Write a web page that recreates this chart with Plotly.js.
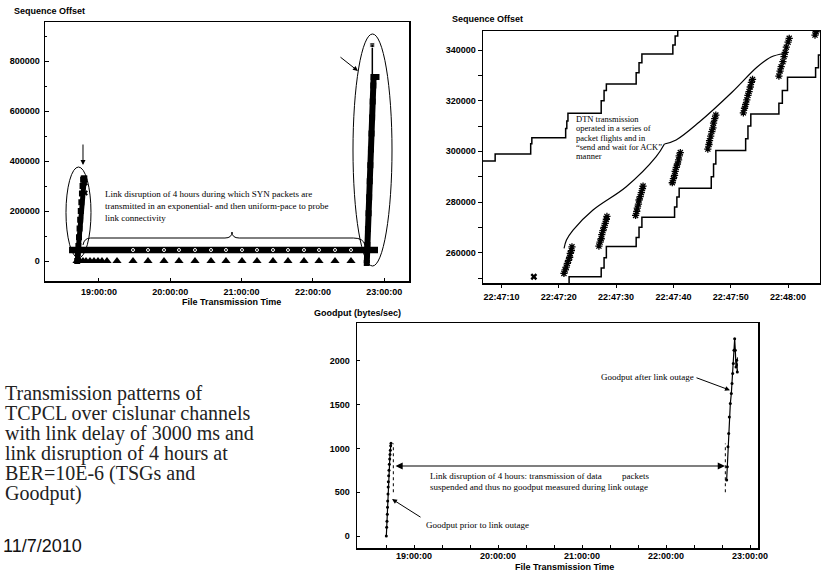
<!DOCTYPE html>
<html><head><meta charset="utf-8">
<script src="https://cdn.plot.ly/plotly-3.0.1.min.js"></script>
<style>html,body{margin:0;padding:0;background:#fff;}#chart{width:821px;height:571px;}</style>
</head><body><div id="chart"></div>
<script>
const W = 821, H = 571;
const day = '2010-11-07 ';
const T = a => a.map(t => day + t);

// ---------- Top-left: Sequence Offset over the whole transfer ----------
const tlBandTime = ['18:34:48', '22:54:47'];
const tlBandSeq = [44000, 44000];
const tlBandMarkTime = ['19:28:37','19:41:14','19:54:42','20:07:19','20:20:47','20:34:15','20:46:52','21:00:20','21:12:57','21:26:25','21:39:02','21:52:30','22:05:08','22:18:36','22:32:03'];
const tlBandMarkSeq = [44000,44000,44000,44000,44000,44000,44000,44000,44000,44000,44000,44000,44000,44000,44000];
const tlSynTime = ['18:41:29','18:44:00','18:46:32','18:49:04','18:52:26','18:55:48','18:59:10','19:02:31','19:06:44','19:15:09','19:28:37','19:41:14','19:54:42','20:07:19','20:20:47','20:34:15','20:46:52','21:00:20','21:12:57','21:26:25','21:39:02','21:52:30','22:05:08','22:18:36','22:32:03'];
const tlSynSeq = [0,0,0,0,0,0,0,0,0,0,0,0,0,0,0,0,0,0,0,0,0,0,0,0,0];
const tlBurst1Time = ['18:41:40','18:42:10','18:42:40','18:43:10','18:43:40','18:44:10','18:44:40','18:45:10','18:45:40','18:46:10','18:46:40','18:47:10','18:47:40'];
const tlBurst1Seq = [0,30000,60000,95000,130000,165000,200000,235000,270000,300000,325000,330000,330000];
const tlRetxTime = ['18:48:20','18:48:20'];
const tlRetxSeq = [312000, 272000];
const tlBurst2Time = ['22:45:20','22:45:50','22:46:20','22:46:50','22:47:20','22:47:50','22:48:20','22:48:50','22:49:20','22:49:50','22:50:20','22:50:50','22:51:06','22:53:30'];
const tlBurst2Seq = [-8000,64000,128000,191000,255000,319000,383000,446000,510000,574000,638000,702000,736000,736000];
const tlSpikeTime = ['22:50:00','22:50:00'];
const tlSpikeSeq = [736000, 864000];

// ---------- Top-right: zoom on 22:47 ----------
const trUpperTime = ['22:47:05','22:47:08.9','22:47:15.1','22:47:15.3','22:47:21.2','22:47:21.4','22:47:21.6','22:47:27.4','22:47:27.9','22:47:28.3','22:47:33.5','22:47:34.0','22:47:34.5','22:47:39.9','22:47:40.3','22:47:40.75','22:47:50'];
const trUpperSeq = [296200,299000,303000,305400,309000,312000,315000,320000,324000,326600,331000,335000,338400,342000,345500,349000,349000];
const trLowerTime = ['22:47:21.8','22:47:21.8','22:47:27.4','22:47:27.9','22:47:28.3','22:47:33.5','22:47:34.0','22:47:34.5','22:47:40.2','22:47:40.6','22:47:41.0','22:47:46.6','22:47:47.0','22:47:47.4','22:47:52.6','22:47:53.0','22:47:53.5','22:47:58.4','22:47:59.0','22:47:59.9','22:48:04.8','22:48:05.3','22:48:07'];
const trLowerSeq = [246000,250500,254000,258000,262400,266000,270000,274000,278000,282000,285400,290000,295000,300300,305000,310000,314700,319000,324000,329200,333000,338000,338000];
const trPktTime = [
 '22:47:20.9','22:47:21.1','22:47:21.3','22:47:21.5','22:47:21.7','22:47:21.9','22:47:22.0','22:47:22.2','22:47:22.3',
 '22:47:27.0','22:47:27.2','22:47:27.4','22:47:27.5','22:47:27.7','22:47:27.9','22:47:28.1','22:47:28.3','22:47:28.4',
 '22:47:33.4','22:47:33.6','22:47:33.7','22:47:33.9','22:47:34.0','22:47:34.2','22:47:34.4','22:47:34.6','22:47:34.7',
 '22:47:39.8','22:47:40.0','22:47:40.2','22:47:40.3','22:47:40.5','22:47:40.7','22:47:40.9','22:47:41.0','22:47:41.2',
 '22:47:46.0','22:47:46.2','22:47:46.3','22:47:46.5','22:47:46.7','22:47:46.9','22:47:47.0','22:47:47.2','22:47:47.4',
 '22:47:52.2','22:47:52.4','22:47:52.6','22:47:52.8','22:47:53.0','22:47:53.2','22:47:53.4','22:47:53.6','22:47:53.8',
 '22:47:58.4','22:47:58.6','22:47:58.8','22:47:59.1','22:47:59.3','22:47:59.5','22:47:59.7','22:48:00.0','22:48:00.2',
 '22:48:04.7','22:48:04.9'];
const trPktSeq = [
 251800,253200,254300,255800,257000,258200,259700,260800,262300,
 262600,264200,265500,267100,268700,270000,271600,273200,274300,
 274700,276300,277600,279200,280800,282100,283700,285300,286300,
 287600,289200,290500,292100,293700,295000,296600,298200,299500,
 300900,302700,304200,306000,307800,309300,311100,312900,314300,
 315200,317000,318500,320300,322100,323600,325400,327200,328400,
 329700,331700,333400,335400,337400,339100,341100,343100,344600,
 345900,347200];
const trRetxTime = ['22:47:15.65'];
const trRetxSeq = [250500];
// guide curve of the "DTN transmission" note (annotation, not data)
const trGuideATime = ['22:47:20.92','22:47:21.34','22:47:22.49','22:47:25.97','22:47:31.77','22:47:36.99','22:47:38.43'];
const trGuideASeq = [261730,265010,268950,276850,286040,297890,302900];
const trGuideBTime = ['22:47:38.43','22:47:40.47','22:47:44.52','22:47:50.26','22:47:54.61','22:47:57.04','22:47:59.3'];
const trGuideBSeq = [302900,304480,311580,323420,333290,337240,338620];

// ---------- Bottom: Goodput ----------
const gpLeftTime = ['18:40:14','18:40:28','18:40:42','18:40:57','18:41:04','18:41:11','18:41:26','18:41:33','18:41:40','18:41:54','18:42:08','18:42:23','18:42:37','18:42:51','18:43:06','18:43:20','18:43:34'];
const gpLeftVal = [0,100,170,250,330,400,480,560,620,690,750,820,880,930,980,1030,1060];
const gpLeftDotTime = ['18:45:14','18:45:14'];
const gpLeftDotVal = [500, 1057];
const gpRightTime = ['22:43:20','22:43:49','22:44:17','22:44:46','22:45:14','22:45:57','22:46:40','22:47:09','22:47:37','22:48:06','22:48:34','22:49:03','22:49:31','22:50:00','22:50:29','22:50:57'];
const gpRightVal = [639,791,1019,1171,1361,1514,1628,1742,1856,1970,2122,2255,2122,1932,2008,1875];
const gpRightDotTime = ['22:42:23','22:42:23'];
const gpRightDotVal = [500, 1057];
const gpRightDot2Time = ['22:51:00','22:51:00'];
const gpRightDot2Val = [1870, 2060];

// ---------- styling ----------
const SANS = 'Liberation Sans, Arial, sans-serif';
const SERIF = 'Liberation Serif, Times New Roman, serif';
const tickFont = {family: SANS, size: 9, color: '#000', weight: 'bold'};
const K = '#000';

const traces = [
  {x: T(tlBandTime), y: tlBandSeq, xaxis:'x', yaxis:'y', mode:'lines', line:{color:K, width:6.5}},
  {x: T(tlBandMarkTime), y: tlBandMarkSeq, xaxis:'x', yaxis:'y', mode:'markers', marker:{symbol:'circle-open', size:3, color:'#fff', line:{color:'#fff', width:1}}},
  {x: T(tlSynTime), y: tlSynSeq, xaxis:'x', yaxis:'y', mode:'markers', marker:{symbol:'triangle-up', size:8, color:K}},
  {x: T(tlBurst1Time), y: tlBurst1Seq, xaxis:'x', yaxis:'y', mode:'lines+markers', line:{color:K, width:5}, marker:{symbol:'square', size:6, color:K}},
  {x: T(tlRetxTime), y: tlRetxSeq, xaxis:'x', yaxis:'y', mode:'markers', marker:{symbol:'x', size:5, color:K}},
  {x: T(tlBurst2Time), y: tlBurst2Seq, xaxis:'x', yaxis:'y', mode:'lines+markers', line:{color:K, width:6}, marker:{symbol:'square', size:6, color:K}},
  {x: T(tlSpikeTime), y: tlSpikeSeq, xaxis:'x', yaxis:'y', mode:'lines+markers', line:{color:K, width:1.5}, marker:{symbol:'square', size:[0,5], color:K}},

  {x: T(trUpperTime), y: trUpperSeq, xaxis:'x2', yaxis:'y2', mode:'lines', line:{color:K, width:1.5, shape:'hv'}},
  {x: T(trLowerTime), y: trLowerSeq, xaxis:'x2', yaxis:'y2', mode:'lines', line:{color:K, width:1.5, shape:'hv'}},
  {x: T(trPktTime), y: trPktSeq, xaxis:'x2', yaxis:'y2', mode:'markers', marker:{symbol:'asterisk-open', size:6, color:K, line:{color:K, width:1.3}}},
  {x: T(trRetxTime), y: trRetxSeq, xaxis:'x2', yaxis:'y2', mode:'markers', marker:{symbol:'x', size:6, color:K}},
  {x: T(trGuideATime), y: trGuideASeq, xaxis:'x2', yaxis:'y2', mode:'lines', line:{color:K, width:1.2, shape:'spline'}},
  {x: T(trGuideBTime), y: trGuideBSeq, xaxis:'x2', yaxis:'y2', mode:'lines', line:{color:K, width:1.2, shape:'spline'}},

  {x: T(gpLeftTime), y: gpLeftVal, xaxis:'x3', yaxis:'y3', mode:'lines+markers', line:{color:K, width:1.2}, marker:{symbol:'circle', size:3, color:K}},
  {x: T(gpLeftDotTime), y: gpLeftDotVal, xaxis:'x3', yaxis:'y3', mode:'lines', line:{color:K, width:1, dash:'dot'}},
  {x: T(gpRightTime), y: gpRightVal, xaxis:'x3', yaxis:'y3', mode:'lines+markers', line:{color:K, width:1.2}, marker:{symbol:'circle', size:3, color:K}},
  {x: T(gpRightDotTime), y: gpRightDotVal, xaxis:'x3', yaxis:'y3', mode:'lines', line:{color:K, width:1, dash:'dot'}},
  {x: T(gpRightDot2Time), y: gpRightDot2Val, xaxis:'x3', yaxis:'y3', mode:'lines', line:{color:K, width:1, dash:'dot'}}
];
traces.forEach(t => { t.hoverinfo = 'skip'; t.showlegend = false; });

function axis(o) {
  return Object.assign({
    showline:true, linecolor:K, linewidth:1.5, mirror:true, showgrid:false, zeroline:false,
    tickcolor:K, tickfont:tickFont, fixedrange:true
  }, o);
}

const d = t => '2010-11-07_' + t;
const shapes = [
  {type:'circle', xref:'x', yref:'y', x0:day+'18:32:14', x1:day+'18:53:16', y0:12000, y1:376000, line:{color:K, width:1}},
  {type:'circle', xref:'x', yref:'y', x0:day+'22:33:44', x1:day+'23:06:34', y0:-20000, y1:908000, line:{color:K, width:1}},
  {type:'path', xref:'x', yref:'y', line:{color:K, width:1},
   path:'M '+d('18:46:32')+',64000 Q '+d('18:47:30')+',92000 '+d('18:53:00')+',92000 L '+d('20:46:00')+',92000 Q '+
        d('20:51:55')+',92000 '+d('20:51:55')+',116000 Q '+d('20:51:55')+',92000 '+d('20:58:00')+',92000 L '+
        d('22:34:00')+',92000 Q '+d('22:42:30')+',92000 '+d('22:43:50')+',64000'}
];

function txt(text, px, py, font, xa) {
  return {xref:'paper', yref:'paper', x:px/W, y:1-py/H, text:text, showarrow:false,
          xanchor:xa||'left', yanchor:'middle', align:'left', font:font};
}
const axTitle = {family:SANS, size:9, color:K, weight:'bold'};
const noteFont = {family:SERIF, size:9, color:K};
const capFont = {family:SERIF, size:20, color:'#222'};

const annotations = [
  txt('Sequence Offset', 12, 11, axTitle),
  txt('File Transmission Time', 180, 302, axTitle),
  txt('Sequence Offset', 450, 19, axTitle),
  txt('Goodput (bytes/sec)', 312, 313, axTitle),
  txt('File Transmission Time', 564, 566.5, axTitle, 'center'),
  txt('Link disruption of 4 hours during which SYN packets are', 103, 194, noteFont),
  txt('transmitted in an exponential- and then uniform-pace to probe', 103, 206, noteFont),
  txt('link connectivity', 103, 218, noteFont),
  txt('DTN transmission', 574, 119, {family:SERIF, size:8.5, color:K}),
  txt('operated in a series of', 574, 128.3, {family:SERIF, size:8.5, color:K}),
  txt('packet flights and in', 574, 137.6, {family:SERIF, size:8.5, color:K}),
  txt('\u201csend and wait for ACK\u201d', 574, 146.9, {family:SERIF, size:8.5, color:K}),
  txt('manner', 574, 156.2, {family:SERIF, size:8.5, color:K}),
  txt('Link disruption of 4 hours: transmission of data         packets', 428, 476, noteFont),
  txt('suspended and thus no goodput measured during link outage', 428, 487, noteFont),
  txt('Goodput after link outage', 599, 377, noteFont),
  txt('Goodput prior to link outage', 424, 525, noteFont),
  txt('Transmission patterns of', 3, 393, capFont),
  txt('TCPCL over cislunar channels', 3, 413, capFont),
  txt('with link delay of 3000 ms and', 3, 433, capFont),
  txt('link disruption of 4 hours at', 3, 453, capFont),
  txt('BER=10E-6 (TSGs and', 3, 473, capFont),
  txt('Goodput)', 3, 493, capFont),
  txt('11/7/2010', 1, 546, {family:SANS, size:18, color:'#111'}),
  // arrows
  {xref:'x', yref:'y', x:day+'18:46:32', y:384000, ax:0, ay:-22, text:'', showarrow:true, arrowhead:2, arrowsize:1, arrowwidth:1, arrowcolor:K},
  {xref:'x', yref:'y', x:day+'22:37:56', y:760000, ax:-19, ay:-15, text:'', showarrow:true, arrowhead:2, arrowsize:1, arrowwidth:1, arrowcolor:K},
  {xref:'x3', yref:'y3', x:day+'22:42:08', y:800, ax:-331, ay:0, text:'', showarrow:true, arrowhead:2, arrowside:'end+start', arrowsize:1.2, arrowwidth:1.2, arrowcolor:K},
  {xref:'x3', yref:'y3', x:day+'22:45:43', y:1666, ax:-35, ay:-13, text:'', showarrow:true, arrowhead:2, arrowsize:1, arrowwidth:1, arrowcolor:K},
  {xref:'x3', yref:'y3', x:day+'18:44:17', y:422, ax:30, ay:19, text:'', showarrow:true, arrowhead:2, arrowsize:1, arrowwidth:1, arrowcolor:K}
];

const layout = {
  width:W, height:H, margin:{l:0, r:0, t:0, b:0}, paper_bgcolor:'#fff', plot_bgcolor:'#fff',
  showlegend:false, font:{family:SANS, size:9, color:K},
  xaxis: axis({domain:[45/W, 409/W], anchor:'y', type:'date', range:[day+'18:14:34', day+'23:20:52'],
    tick0:day+'19:00:00', dtick:3600000, tickformat:'%H:%M:%S', ticks:'inside', ticklen:3, ticklabelstandoff:2}),
  yaxis: axis({domain:[1-281/H, 1-22/H], anchor:'x', range:[-80000, 956000], dtick:200000, tick0:0, tickformat:'d',
    ticks:'inside', ticklen:4, minor:{dtick:100000, ticks:'inside', ticklen:2, tickcolor:K}, ticklabelstandoff:2}),
  xaxis2: axis({domain:[483/W, 820/W], anchor:'y2', type:'date', range:[day+'22:47:06.78', day+'22:48:05.57'],
    tick0:day+'22:47:00', dtick:10000, tickformat:'%H:%M:%S', ticks:'outside', ticklen:3, ticklabelstandoff:2}),
  yaxis2: axis({domain:[1-283/H, 1-31/H], anchor:'x2', range:[248035, 347500], dtick:20000, tick0:0, tickformat:'d',
    ticks:'outside', ticklen:4, minor:{dtick:10000, ticks:'outside', ticklen:4, tickcolor:K}}),
  xaxis3: axis({domain:[357/W, 758/W], anchor:'y3', type:'date', range:[day+'18:19:17', day+'23:05:43'],
    tick0:day+'19:00:00', dtick:3600000, tickformat:'%H:%M:%S', ticks:'inside', ticklen:3,
    minor:{dtick:1200000, ticks:'inside', ticklen:3, tickcolor:K}, ticklabelstandoff:-1}),
  yaxis3: axis({domain:[1-548/H, 1-323/H], anchor:'x3', range:[-137, 2434], dtick:500, tick0:0, tickformat:'d',
    ticks:'inside', ticklen:3, ticklabelstandoff:4}),
  shapes: shapes,
  annotations: annotations
};

Plotly.newPlot('chart', traces, layout, {staticPlot:true, displayModeBar:false});
</script>
</body></html>
